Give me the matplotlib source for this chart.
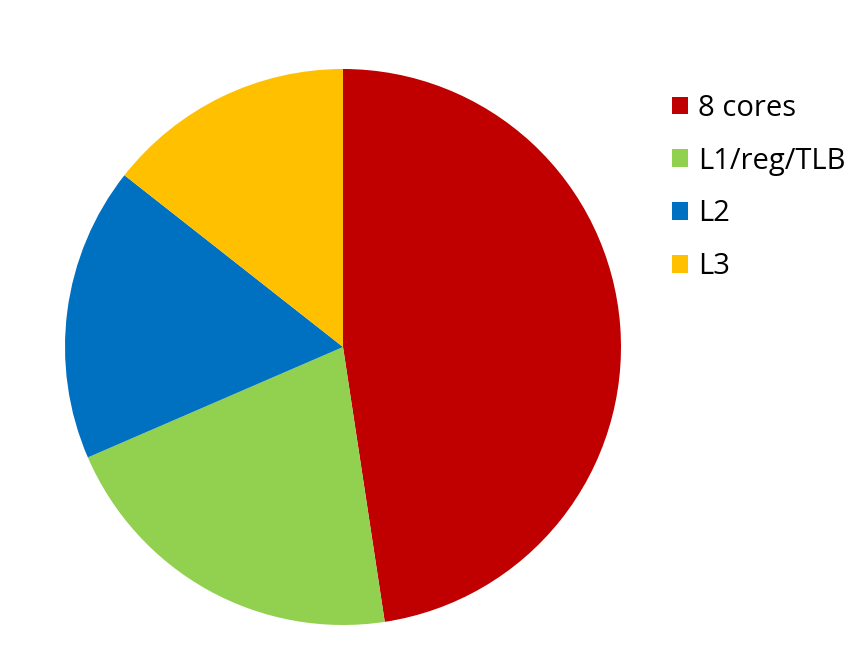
import matplotlib.pyplot as plt
from matplotlib.patches import Patch

labels = ['8 cores', 'L1/reg/TLB', 'L2', 'L3']
shares = [47.6, 20.9, 17.1, 14.4]
colors = ['#C00000', '#92D050', '#0070C0', '#FFC000']

plt.rcParams['font.family'] = ['Open Sans', 'DejaVu Sans']

W, H = 867, 672
fig = plt.figure(figsize=(W / 100, H / 100), dpi=100)

# pie centred at (343, 347) px with radius 278 px
cx, cy, r = 343, 347, 278
ax = fig.add_axes([(cx - r) / W, (H - cy - r) / H, 2 * r / W, 2 * r / H])
ax.pie(shares, colors=colors, startangle=90, counterclock=False,
       radius=1.0, wedgeprops=dict(linewidth=0))
ax.set_xlim(-1, 1)
ax.set_ylim(-1, 1)
ax.set_aspect('equal')
ax.axis('off')

handles = [Patch(facecolor=c, edgecolor='none') for c in colors]
fig.legend(handles, labels, loc='upper left',
           bbox_to_anchor=(660 / W, 1 - 82 / H), frameon=False,
           fontsize=21, handlelength=0.55, handleheight=0.55,
           handletextpad=0.35, labelspacing=0.82, borderaxespad=0)

fig.savefig('out.png', dpi=100)
